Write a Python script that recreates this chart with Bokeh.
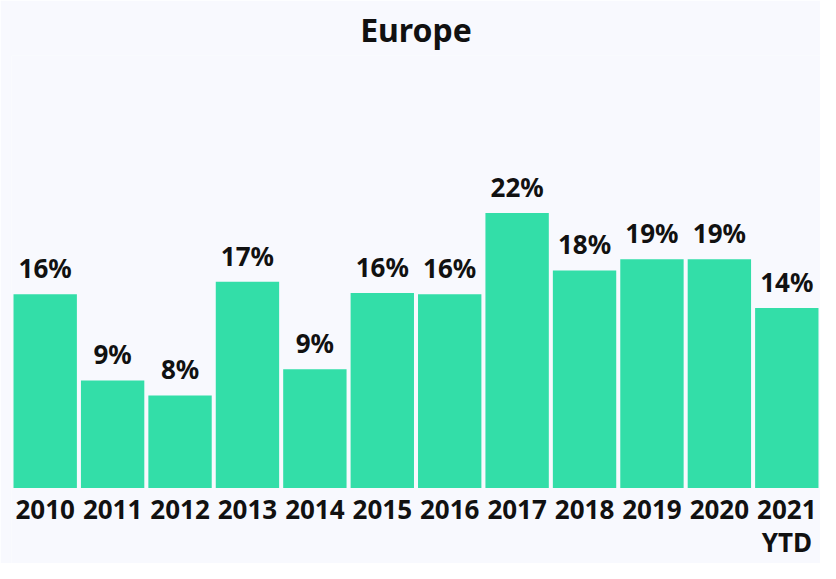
from bokeh.plotting import figure
from bokeh.models import ColumnDataSource, FactorRange, Range1d, LabelSet
from bokeh.core.properties import value
from bokeh.embed import file_html
from bokeh.resources import INLINE

years = ["2010", "2011", "2012", "2013", "2014", "2015", "2016", "2017", "2018", "2019", "2020", "2021"]
year_notes = ["", "", "", "", "", "", "", "", "", "", "", "YTD"]
shares = [15.5, 8.6, 7.4, 16.5, 9.5, 15.6, 15.5, 22.0, 17.4, 18.3, 18.3, 14.4]
share_labels = ["16%", "9%", "8%", "17%", "9%", "16%", "16%", "22%", "18%", "19%", "19%", "14%"]
zeros = [0] * len(years)

BG = "#f8f9fe"
BAR = "#33dea8"
FONT = "Noto Sans"
INK = "#111111"

src = ColumnDataSource(dict(year=years, note=year_notes, share=shares,
                            label=share_labels, base=zeros))

p = figure(width=820, height=563, x_range=FactorRange(*years, range_padding=0),
           y_range=Range1d(-6.05, 34.6), output_backend="svg", toolbar_location=None,
           title="Europe", min_border_left=11, min_border_right=0, min_border_top=0,
           min_border_bottom=0)
p.title.align = "center"
p.title.text_font = FONT
p.title.text_font_size = "32px"
p.title.text_font_style = "bold"
p.title.text_color = INK

p.background_fill_color = BG
p.border_fill_color = BG
p.outline_line_color = None
p.grid.visible = False
p.xaxis.visible = False
p.yaxis.visible = False

p.vbar(x="year", top="share", bottom="base", width=0.94, source=src,
       fill_color=BAR, line_color=None)

p.add_layout(LabelSet(x="year", y="share", text="label", source=src, text_align="center",
                      text_baseline="alphabetic", y_offset=16, text_font=value(FONT),
                      text_font_size=value("26px"), text_font_style="bold", text_color=INK))
p.add_layout(LabelSet(x="year", y="base", text="year", source=src, text_align="center",
                      text_baseline="top", y_offset=-12, text_font=value(FONT),
                      text_font_size=value("26px"), text_font_style="bold", text_color=INK))
p.add_layout(LabelSet(x="year", y="base", text="note", source=src, text_align="center",
                      text_baseline="top", y_offset=-36, text_font=value(FONT),
                      text_font_size=value("26px"), text_font_style="bold", text_color=INK))

html = file_html(p, INLINE)
html = html.replace("<body>", "<body style=\"background:%s\">" % BG, 1)
open("out.html", "w").write(html)
